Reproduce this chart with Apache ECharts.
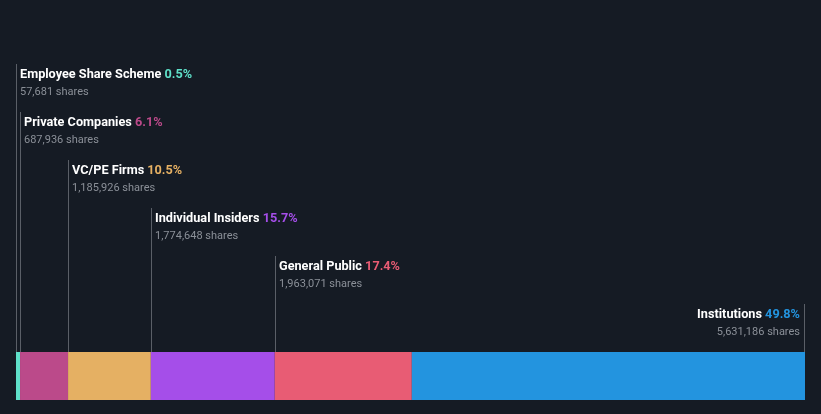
<!DOCTYPE html>
<html><head><meta charset="utf-8">
<script src="https://cdn.jsdelivr.net/npm/echarts@6/dist/echarts.min.js"></script>
<style>html,body{margin:0;padding:0;background:#151b24;}#c{width:821px;height:414px;}</style>
</head><body><div id="c"></div>
<script>
var categories = ['Employee Share Scheme','Private Companies','VC/PE Firms','Individual Insiders','General Public','Institutions'];
var shares = [57681, 687936, 1185926, 1774648, 1963071, 5631186];
var percentLabels = ['0.5%','6.1%','10.5%','15.7%','17.4%','49.8%'];
var shareLabels = ['57,681 shares','687,936 shares','1,185,926 shares','1,774,648 shares','1,963,071 shares','5,631,186 shares'];
var colors = ['#5fe0c9','#bb4a8a','#e5b063','#a54ee9','#e85c74','#2394df'];

var total = shares.reduce(function(a,b){return a+b;},0);
var chart = echarts.init(document.getElementById('c'));
var series = categories.map(function(name,i){
  return {type:'bar', name:name, stack:'all', barWidth:48, data:[shares[i]],
    itemStyle:{color:colors[i]}, silent:true};
});
chart.setOption({
  backgroundColor:'#151b24',
  animation:false,
  grid:{left:16,right:16,top:352,height:48},
  xAxis:{type:'value',min:0,max:total,show:false},
  yAxis:{type:'category',data:['Ownership'],show:false},
  series:series
});
var graphic = [];
var cum = 0;
var font = 'Roboto, "Noto Sans", sans-serif';
categories.forEach(function(name,i){
  var x = chart.convertToPixel({gridIndex:0},[cum,0])[0];
  cum += shares[i];
  var last = (i === categories.length-1);
  if (last) x = chart.convertToPixel({gridIndex:0},[cum,0])[0];
  x = Math.round(x) + (last ? -0.5 : 0.5);
  var top = 64 + 48*i;
  graphic.push({type:'line', shape:{x1:x,y1:top,x2:x,y2:352}, style:{stroke:'#5a5f67',lineWidth:1}, silent:true});
  var tx = last ? x-4.5 : x+3.5;
  var align = last ? 'right' : 'left';
  graphic.push({type:'text', x:tx, y:74.5+48*i, style:{
    text:'{a|'+name+' }{b|'+percentLabels[i]+'}', align:align, verticalAlign:'middle',
    rich:{a:{fill:'#ffffff',fontSize:12.7,fontWeight:'bold',fontFamily:font},
          b:{fill:colors[i],fontSize:12.7,fontWeight:'bold',fontFamily:font}}
  }});
  graphic.push({type:'text', x:tx, y:92.5+48*i, style:{
    text:shareLabels[i], align:align, verticalAlign:'middle', fill:'#8b9098', fontSize:11, fontFamily:font
  }});
});
chart.setOption({graphic:graphic});
</script></body></html>
